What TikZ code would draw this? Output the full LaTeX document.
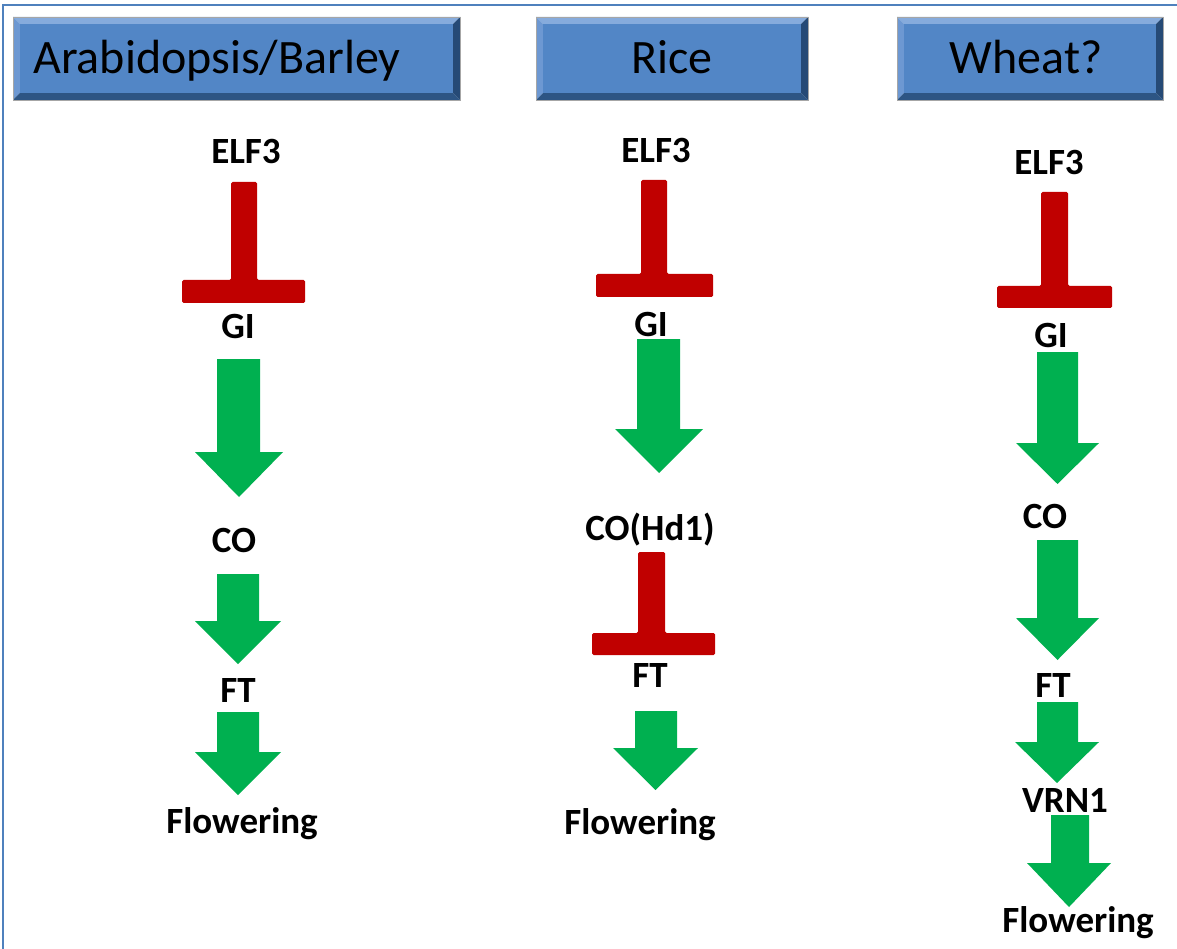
\documentclass[tikz,border=0pt]{standalone}
\usepackage{fontspec}
\setmainfont{Carlito}
\definecolor{frameblue}{HTML}{4F81BD}
\definecolor{tred}{HTML}{C00000}
\definecolor{agreen}{HTML}{00B050}
\definecolor{bvface}{HTML}{5286C6}
\definecolor{bvtop}{HTML}{86ABDC}
\definecolor{bvleft}{HTML}{6D98D2}
\definecolor{bvbot}{HTML}{2D5584}
\definecolor{bvright}{HTML}{264A76}
\tikzset{
  lbl/.style={inner sep=0pt, anchor=base, font=\bfseries\fontsize{37}{42}\selectfont, text=black},
  headtxt/.style={inner sep=0pt, anchor=base, font=\fontsize{48}{54}\selectfont, text=black},
  greenarrow/.style={fill=agreen},
  redtee/.style={fill=tred, rounded corners=1.5pt},
}
% green block arrow: shaft-left shaft-right top head-start head-left head-right tip
\newcommand\GArrow[7]{%
  \fill[greenarrow] (#1,#3) -- (#2,#3) -- (#2,#4) -- (#6,#4) -- ({(#5+#6)/2},#7) -- (#5,#4) -- (#1,#4) -- cycle;}
% red inhibition T: bar-left bar-right bar-top cross-left cross-right cross-top cross-bottom
\newcommand\RTee[7]{%
  \fill[redtee] (#1,#3) -- (#2,#3) -- (#2,#6) -- (#5,#6) -- (#5,#7) -- (#4,#7) -- (#4,#6) -- (#1,#6) -- cycle;}
% bevelled header box: x1 y1 x2 y2
\newcommand\HeadBox[4]{%
  \fill[bvtop] (#1,#2) -- (#3,#2) -- (#3-7,#2+7) -- (#1+7,#2+7) -- cycle;
  \fill[bvleft] (#1,#2) -- (#1+7,#2+7) -- (#1+7,#4-7) -- (#1,#4) -- cycle;
  \fill[bvbot] (#1,#4) -- (#1+7,#4-7) -- (#3-7,#4-7) -- (#3,#4) -- cycle;
  \fill[bvright] (#3,#2) -- (#3,#4) -- (#3-7,#4-7) -- (#3-7,#2+7) -- cycle;
  \fill[bvface] (#1+7,#2+7) rectangle (#3-7,#4-7);
  \draw[gray!70, line width=0.6pt] (#1,#2) rectangle (#3,#4);}
\begin{document}
\begin{tikzpicture}[x=1pt,y=-1pt]
\useasboundingbox (0,0) rectangle (1177,949);
\fill[white] (0,0) rectangle (1177,949);
\draw[frameblue, line width=2.5pt] (3,949) -- (3,5) -- (1177,5);

% headers
\HeadBox{13}{17}{460}{100}
\HeadBox{536}{17}{808}{100}
\HeadBox{897}{17}{1163}{100}
\node[headtxt] (hA) at (217,74) {Arabidopsis/Barley};
\node[headtxt] (hR) at (672,74) {Rice};
\node[headtxt] (hW) at (1026,74) {Wheat?};

% column 1
\node[lbl] (a1) at (246,164) {ELF3};
\RTee{231}{257}{182}{182}{305}{280}{303}
\node[lbl] (a2) at (238,338) {GI};
\GArrow{217}{260}{359}{452}{195}{283}{497}
\node[lbl] (a3) at (234,552) {CO};
\GArrow{217}{259}{574}{621}{195}{281}{664}
\node[lbl] (a4) at (238,702) {FT};
\GArrow{217}{259}{712}{752}{195}{281}{795}
\node[lbl] (a5) at (242,833) {Flowering};

% column 2
\node[lbl] (r1) at (656,163) {ELF3};
\RTee{641}{667}{180}{596}{713}{274}{297}
\node[lbl] (r2) at (651,337) {GI};
\GArrow{637}{680}{339}{429}{615}{703}{473}
\node[lbl] (r3) at (650,540) {CO(Hd1)};
\RTee{638}{665}{552}{592}{715}{633}{655}
\node[lbl] (r4) at (650,687) {FT};
\GArrow{635}{677}{711}{748}{613}{698}{790}
\node[lbl] (r5) at (640,834) {Flowering};

% column 3
\node[lbl] (w1) at (1049,175) {ELF3};
\RTee{1041}{1068}{192}{997}{1112}{286}{308}
\node[lbl] (w2) at (1051,348) {GI};
\GArrow{1037}{1078}{352}{443}{1016}{1099}{484}
\node[lbl] (w3) at (1045,528) {CO};
\GArrow{1037}{1078}{540}{618}{1016}{1099}{660}
\node[lbl] (w4) at (1053,697) {FT};
\GArrow{1037}{1078}{702}{742}{1015}{1099}{783}
\node[lbl] (w5) at (1065,812) {VRN1};
\GArrow{1051}{1089}{815}{863}{1027}{1111}{907}
\node[lbl] (w6) at (1078,932) {Flowering};
\end{tikzpicture}
\end{document}
